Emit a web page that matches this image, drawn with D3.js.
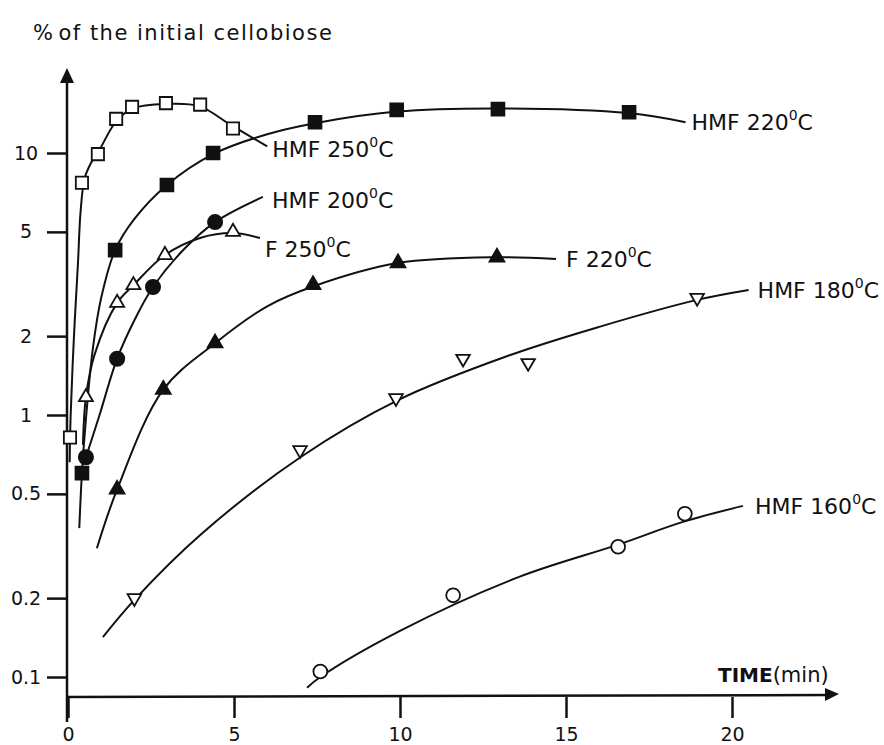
<!DOCTYPE html>
<html>
<head>
<meta charset="utf-8">
<script src="https://cdn.jsdelivr.net/npm/d3@7"></script>
<style>
    body { margin: 0; background: #fff; }
    text { font-family: "DejaVu Sans", sans-serif; fill: #111; }
    .curve { fill: none; stroke: #111; stroke-width: 2px; }
    .axis-line { fill: none; stroke: #111; stroke-width: 2.5px; }
    .axis .tick line { stroke: #111; stroke-width: 2.5px; }
    .axis .domain { display: none; }
</style>
</head>
<body>
<div id="chart"></div>
<script>
// measured points [time (min), % of initial cellobiose]
var hmf250Points = [[0.06, 0.82], [0.42, 7.7], [0.9, 9.9], [1.45, 13.5], [1.93, 15.0], [2.95, 15.5], [3.98, 15.3], [4.97, 12.4]];
var hmf220Points = [[0.42, 0.6], [1.42, 4.26], [2.98, 7.55], [4.37, 10.0], [7.44, 13.1], [9.9, 14.6], [12.95, 14.7], [16.9, 14.3]];
var hmf200Points = [[0.54, 0.69], [1.48, 1.64], [2.56, 3.08], [4.43, 5.45]];
var f250Points = [[0.54, 1.17], [1.48, 2.68], [1.97, 3.13], [2.92, 4.08], [4.97, 5.0]];
var f220Points = [[1.48, 0.52], [2.87, 1.25], [4.43, 1.88], [7.38, 3.14], [9.94, 3.8], [12.92, 4.0]];
var hmf180Points = [[2.0, 0.2], [6.99, 0.735], [9.88, 1.16], [11.9, 1.64], [13.86, 1.58], [18.95, 2.8]];
var hmf160Points = [[7.6, 0.105], [11.6, 0.205], [16.57, 0.314], [18.58, 0.42]];

// fitted curves as drawn in the figure
var hmf250Curve = [[0.05, 0.66], [0.08, 1.0], [0.18, 2.0], [0.3, 3.8], [0.38, 6.0], [0.5, 8.0], [0.7, 9.2], [0.95, 10.3], [1.45, 13.2], [1.95, 14.8], [2.95, 15.4], [3.95, 15.1], [4.9, 12.8], [6.0, 10.6]];
var hmf220Curve = [[0.34, 0.37], [0.42, 0.6], [0.55, 1.0], [0.75, 1.8], [1.0, 2.8], [1.42, 4.26], [2.0, 5.6], [2.98, 7.55], [4.37, 9.9], [6.0, 11.8], [7.44, 13.0], [9.9, 14.4], [12.95, 14.8], [16.9, 14.2], [18.6, 13.1]];
var hmf200Curve = [[0.54, 0.69], [0.95, 1.0], [1.48, 1.64], [2.0, 2.3], [2.56, 3.08], [3.5, 4.3], [4.43, 5.45], [5.87, 6.8]];
var f250Curve = [[0.45, 0.77], [0.54, 1.17], [0.8, 1.7], [1.48, 2.68], [1.97, 3.13], [2.92, 4.08], [4.0, 4.75], [4.97, 4.95], [5.78, 4.74]];
var f220Curve = [[0.87, 0.31], [1.48, 0.52], [2.87, 1.25], [4.43, 1.88], [6.0, 2.6], [7.4, 3.1], [9.94, 3.8], [12.92, 4.0], [14.7, 3.94]];
var hmf180Curve = [[1.05, 0.142], [2.0, 0.197], [4.0, 0.35], [7.0, 0.69], [9.94, 1.14], [13.3, 1.69], [16.0, 2.17], [18.95, 2.75], [20.5, 3.0]];
var hmf160Curve = [[7.2, 0.091], [7.6, 0.1], [10.0, 0.15], [13.55, 0.24], [16.57, 0.32], [18.5, 0.39], [20.33, 0.45]];

var seriesNames = ["HMF 250", "HMF 220", "HMF 200", "F 250", "F 220", "HMF 180", "HMF 160"];
var seriesMarkers = ["openSquare", "square", "circle", "openTriangle", "triangle", "openDown", "openCircle"];

var xTicks = [0, 5, 10, 15, 20];
var yTicks = [0.1, 0.2, 0.5, 1, 2, 5, 10];

CelloChart = function(_parentElement) {
    this.parentElement = _parentElement;
    this.points = [hmf250Points, hmf220Points, hmf200Points, f250Points, f220Points, hmf180Points, hmf160Points];
    this.curves = [hmf250Curve, hmf220Curve, hmf200Curve, f250Curve, f220Curve, hmf180Curve, hmf160Curve];
    this.initVis();
};

CelloChart.prototype.initVis = function() {
    var vis = this;

    vis.margin = { top: 0, left: 68 };
    vis.width = 884;
    vis.height = 745;
    vis.axisY = 697;

    vis.svg = d3.select("#" + vis.parentElement).append("svg")
        .attr("width", vis.width)
        .attr("height", vis.height)
        .append("g")
        .attr("transform", "translate(" + vis.margin.left + "," + vis.margin.top + ")");

    vis.x = d3.scaleLinear().domain([0, 20]).range([0, 664]);
    vis.y = d3.scaleLog().domain([0.1, 10]).range([677, 153]);

    vis.xAxis = d3.axisBottom(vis.x)
        .tickValues(xTicks)
        .tickSize(21)
        .tickPadding(10)
        .tickFormat(d3.format("d"));

    vis.yAxis = d3.axisLeft(vis.y)
        .tickValues(yTicks)
        .tickSize(21)
        .tickFormat(function(d) { return d < 1 ? d3.format(".1f")(d) : d; });

    vis.updateVis();
};

CelloChart.prototype.updateVis = function() {
    var vis = this;

    // axes
    var gx = vis.svg.append("g")
        .attr("class", "axis x-axis")
        .attr("transform", "translate(0," + vis.axisY + ")")
        .call(vis.xAxis);
    gx.selectAll("text").style("font-size", "19px").attr("fill", "#111");

    var gy = vis.svg.append("g")
        .attr("class", "axis y-axis")
        .call(vis.yAxis);
    gy.selectAll("text")
        .style("font-size", "19px")
        .attr("fill", "#111")
        .attr("text-anchor", "middle")
        .attr("x", -42);

    vis.svg.append("line").attr("class", "axis-line")
        .attr("x1", -1).attr("x2", -1).attr("y1", vis.axisY + 25).attr("y2", 78);
    vis.svg.append("path")
        .attr("d", "M-1,68 L-8,83 L6,83 Z").attr("fill", "#111");

    vis.svg.append("line").attr("class", "axis-line")
        .attr("x1", -1).attr("x2", 762).attr("y1", vis.axisY).attr("y2", vis.axisY - 2);
    vis.svg.append("path")
        .attr("d", "M771," + (vis.axisY - 3) + " L757," + (vis.axisY - 9) + " L757," + (vis.axisY + 4) + " Z")
        .attr("fill", "#111");

    // titles
    var yTitle = vis.svg.append("text")
        .attr("x", -35).attr("y", 40)
        .style("font-size", "21px")
        .style("letter-spacing", "1.5px");
    yTitle.append("tspan").text("%");
    yTitle.append("tspan").attr("dx", 4).text("of the initial cellobiose");

    var xTitle = vis.svg.append("text")
        .attr("x", 650).attr("y", 682)
        .style("font-size", "20px");
    xTitle.append("tspan").style("font-weight", "bold").text("TIME");
    xTitle.append("tspan").style("font-size", "21px").text("(min)");

    // curves
    var line = d3.line()
        .x(function(d) { return vis.x(d[0]); })
        .y(function(d) { return vis.y(d[1]); })
        .curve(d3.curveCatmullRom.alpha(0.5));

    vis.svg.selectAll(".curve")
        .data(vis.curves)
        .enter()
        .append("path")
        .attr("class", "curve")
        .attr("d", line);

    // markers
    var shapes = {
        openSquare: { type: d3.symbolSquare, size: 150, fill: "#fff", rot: 0 },
        square: { type: d3.symbolSquare, size: 165, fill: "#111", rot: 0 },
        circle: { type: d3.symbolCircle, size: 160, fill: "#111", rot: 0 },
        openCircle: { type: d3.symbolCircle, size: 150, fill: "#fff", rot: 0 },
        openTriangle: { type: d3.symbolTriangle, size: 85, fill: "#fff", rot: 0 },
        triangle: { type: d3.symbolTriangle, size: 95, fill: "#111", rot: 0 },
        openDown: { type: d3.symbolTriangle, size: 80, fill: "#fff", rot: 180 }
    };

    vis.points.forEach(function(pts, i) {
        var s = shapes[seriesMarkers[i]];
        vis.svg.append("g")
            .selectAll("path")
            .data(pts)
            .enter()
            .append("path")
            .attr("d", d3.symbol().type(s.type).size(s.size))
            .attr("transform", function(d) {
                return "translate(" + vis.x(d[0]) + "," + vis.y(d[1]) + ") rotate(" + s.rot + ")";
            })
            .attr("fill", s.fill)
            .attr("stroke", "#111")
            .attr("stroke-width", 1.8);
    });

    // series labels placed at the end of each curve
    var labelOffsets = [[5, 11], [6, 8], [9, 11], [5, 19], [10, 8], [9, 8], [12, 8]];
    vis.curves.forEach(function(c, i) {
        var end = c[c.length - 1];
        var t = vis.svg.append("text")
            .attr("x", vis.x(end[0]) + labelOffsets[i][0])
            .attr("y", vis.y(end[1]) + labelOffsets[i][1])
            .style("font-size", "22px");
        t.append("tspan").text(seriesNames[i]);
        t.append("tspan").attr("dy", -10).style("font-size", "14px").text("0");
        t.append("tspan").attr("dy", 10).text("C");
    });
};

new CelloChart("chart");
</script>
</body>
</html>
